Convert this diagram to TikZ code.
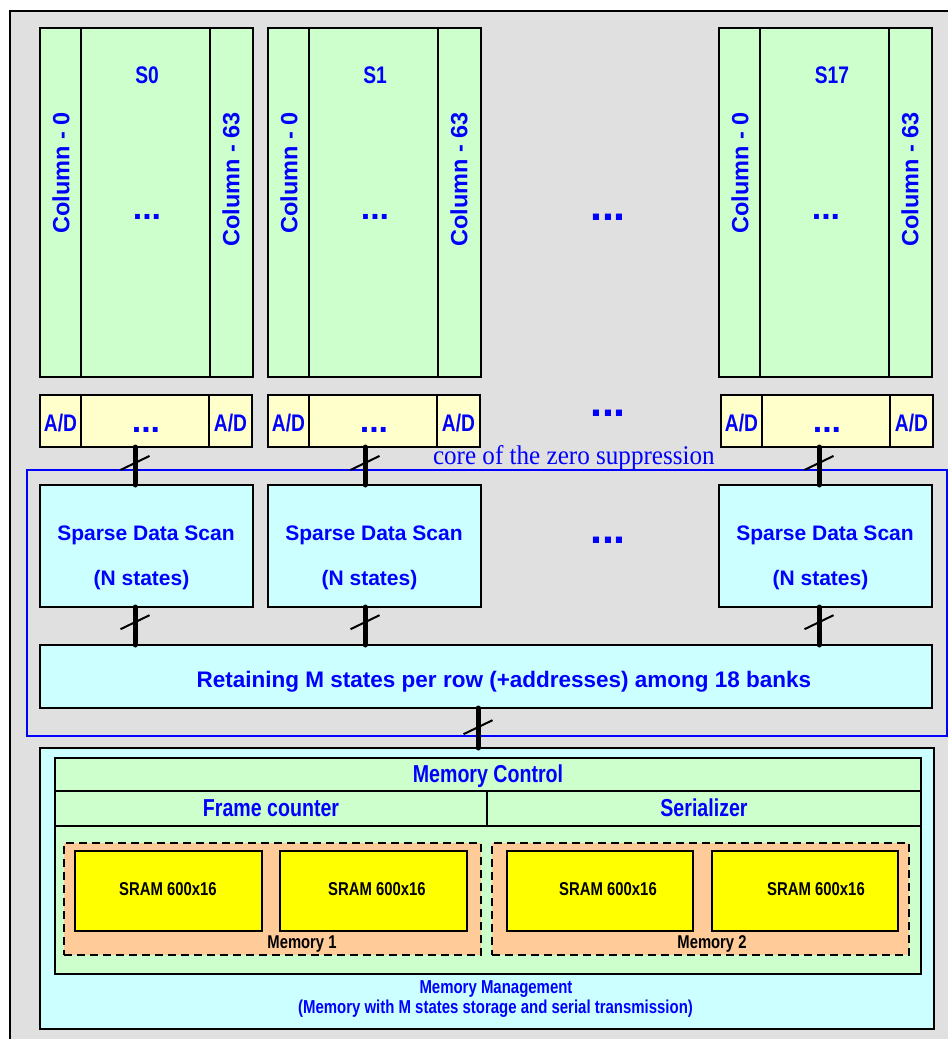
\documentclass[tikz,border=0pt]{standalone}
\usepackage{fontspec}
\setmainfont{Liberation Sans}
\newfontfamily\narfont[FakeStretch=0.8]{Liberation Sans}
\newfontfamily\serfont[FakeStretch=0.93]{Liberation Serif}
\usetikzlibrary{calc}
\definecolor{bgray}{HTML}{E0E0E0}
\definecolor{lgreen}{HTML}{CCFFCC}
\definecolor{lyel}{HTML}{FFFFCC}
\definecolor{lcyan}{HTML}{CCFFFF}
\definecolor{lorange}{HTML}{FFCC99}
\definecolor{sramyel}{HTML}{FFFF00}
\definecolor{tblue}{HTML}{0000FF}
\tikzset{
  blk/.style={draw=black, line width=2pt, anchor=north west, inner sep=0pt, outer sep=0pt},
  sens/.style={blk, fill=lgreen},
  adc/.style={blk, fill=lyel},
  cyanbox/.style={blk, fill=lcyan},
  greenbox/.style={blk, fill=lgreen},
  memdash/.style={blk, fill=lorange, dash pattern=on 8pt off 5pt},
  srambox/.style={blk, fill=sramyel},
  divline/.style={line width=1.5pt},
  busline/.style={line width=5pt, line cap=round},
  slashline/.style={line width=2pt},
  txt/.style={inner sep=0pt, outer sep=0pt, text=tblue},
  slbl/.style={txt, font=\narfont\bfseries\fontsize{24}{28}\selectfont, anchor=base},
  adlbl/.style={txt, font=\narfont\bfseries\fontsize{24}{28}\selectfont, anchor=base},
  collbl/.style={txt, font=\bfseries\fontsize{23.5}{28}\selectfont, rotate=90, anchor=east},
  smalldots/.style={txt, font=\bfseries\fontsize{34}{40}\selectfont, anchor=base},
  bigdots/.style={txt, font=\bfseries\fontsize{43}{50}\selectfont, anchor=base},
  sdslbl/.style={txt, font=\bfseries\fontsize{21}{25}\selectfont, anchor=base},
  retlbl/.style={txt, font=\bfseries\fontsize{22.5}{27}\selectfont, anchor=base},
  corelbl/.style={txt, font=\serfont\fontsize{27}{32}\selectfont, anchor=base west},
  headlbl/.style={txt, font=\narfont\bfseries\fontsize{24.5}{29}\selectfont, anchor=base},
  sramlbl/.style={txt, text=black, font=\narfont\bfseries\fontsize{18.6}{22}\selectfont, anchor=base},
  memlbl/.style={txt, text=black, font=\narfont\bfseries\fontsize{18.5}{22}\selectfont, anchor=base},
  mmlbl/.style={txt, font=\narfont\bfseries\fontsize{18.7}{22}\selectfont, anchor=base},
}
\newcommand{\busconn}[3]{%
  \draw[busline] (#1) -- (#2);
  \draw[slashline] ($(#1)!#3!(#2)+(-14.5,7)$) -- ($(#1)!#3!(#2)+(14.5,-7)$);
}
\begin{document}
\begin{tikzpicture}[x=1pt,y=-1pt]
  \useasboundingbox (0,0) rectangle (948,1039);
  \fill[white] (0,0) rectangle (948,1039);
  \fill[bgray] (10,11) rectangle (948,1039);
  \draw[line width=2pt] (10,1039) -- (10,11) -- (948,11);

  % core of the zero suppression frame
  \node[draw=tblue, line width=1.5pt, anchor=north west, inner sep=0pt,
        minimum width=920pt, minimum height=266pt] (core) at (26,469) {};
  \node[corelbl] (coretext) at (433,464) {core of the zero suppression};

  % sensors, A/D, sparse data scan
  \foreach \n/\x/\lab/\lx/\ax/\bx in {0/40/S0/147/40/135, 1/268/S1/375/268/365, 17/719/S17/832/721/819} {
    \node[sens, minimum width=213pt, minimum height=349pt] (s\n) at (\x,28) {};
    \draw[divline] ($(s\n.north west)+(41,0)$) -- ($(s\n.south west)+(41,0)$);
    \draw[divline] ($(s\n.north west)+(170,0)$) -- ($(s\n.south west)+(170,0)$);
    \node[slbl] (sl\n) at (\lx,83) {\lab};
    \node[collbl] (ca\n) at ($(s\n.north west)+(21,84)$) {Column - 0};
    \node[collbl] (cb\n) at ($(s\n.north west)+(191,84)$) {Column - 63};
    \node[smalldots] (sd\n) at ($(s\n.north west)+(107,191)$) {...};

    \node[adc, minimum width=212pt, minimum height=52pt] (a\n) at (\ax,395) {};
    \draw[divline] ($(a\n.north west)+(41,0)$) -- ($(a\n.south west)+(41,0)$);
    \draw[divline] ($(a\n.north west)+(169,0)$) -- ($(a\n.south west)+(169,0)$);
    \node[adlbl] (al\n) at ($(a\n.north west)+(20.5,36)$) {A/D};
    \node[adlbl] (ar\n) at ($(a\n.north west)+(190.5,36)$) {A/D};
    \node[smalldots] (ad\n) at ($(a\n.north west)+(106,37)$) {...};

    \node[cyanbox, minimum width=213pt, minimum height=122pt] (d\n) at (\x,485) {};
    \node[sdslbl] (dt\n) at ($(d\n.north west)+(106,55)$) {Sparse Data Scan};
    \node[sdslbl] (dn\n) at ($(d\n.north west)+(101.5,100)$) {(N states)};

    \coordinate (bx\n) at (\bx,0);
  }

  \node[bigdots] (gap1) at (608,220) {...};
  \node[bigdots] (gap2) at (608,416) {...};
  \node[bigdots] (gap3) at (608,543) {...};

  % retaining
  \node[cyanbox, minimum width=892pt, minimum height=63pt] (ret) at (40,645) {};
  \node[retlbl] (rettext) at (504,687) {Retaining M states per row (+addresses) among 18 banks};

  % memory management
  \node[cyanbox, minimum width=894pt, minimum height=281pt] (mm) at (40,748) {};
  \node[greenbox, minimum width=866pt, minimum height=33pt] (mctl) at (55,758) {};
  \node[greenbox, minimum width=432pt, minimum height=35pt] (fc) at (55,791) {};
  \node[greenbox, minimum width=434pt, minimum height=35pt] (ser) at (487,791) {};
  \node[greenbox, minimum width=866pt, minimum height=148pt] (body) at (55,826) {};
  \node[headlbl] (mctltext) at (488,782) {Memory Control};
  \node[headlbl] (fctext) at (271,816) {Frame counter};
  \node[headlbl] (sertext) at (704,816) {Serializer};

  \node[memdash, minimum width=417pt, minimum height=112pt] (m1) at (64,843) {};
  \node[memdash, minimum width=417pt, minimum height=112pt] (m2) at (492,843) {};
  \node[srambox, minimum width=187pt, minimum height=80pt] (r1) at (75,851) {};
  \node[srambox, minimum width=187pt, minimum height=80pt] (r2) at (280,851) {};
  \node[srambox, minimum width=186pt, minimum height=80pt] (r3) at (507,851) {};
  \node[srambox, minimum width=186pt, minimum height=80pt] (r4) at (712,851) {};
  \node[sramlbl] (r1t) at (168,895) {SRAM 600x16};
  \node[sramlbl] (r2t) at (377,895) {SRAM 600x16};
  \node[sramlbl] (r3t) at (608,895) {SRAM 600x16};
  \node[sramlbl] (r4t) at (816,895) {SRAM 600x16};
  \node[memlbl] (m1t) at (302,948) {Memory 1};
  \node[memlbl] (m2t) at (712,948) {Memory 2};
  \node[mmlbl] (mmt1) at (496,993) {Memory Management};
  \node[mmlbl] (mmt2) at (495.5,1013) {(Memory with M states storage and serial transmission)};

  % buses
  \foreach \n in {0,1,17} {
    \coordinate (p\n) at (a\n.south -| bx\n);
    \coordinate (q\n) at (d\n.north -| bx\n);
    \coordinate (v\n) at (d\n.south -| bx\n);
    \coordinate (w\n) at (ret.north -| bx\n);
    \busconn{p\n}{q\n}{0.42}
    \busconn{v\n}{w\n}{0.4}
  }
  \coordinate (bm) at (478,0);
  \coordinate (pm) at (ret.south -| bm);
  \coordinate (qm) at (mm.north -| bm);
  \busconn{pm}{qm}{0.48}
\end{tikzpicture}
\end{document}
